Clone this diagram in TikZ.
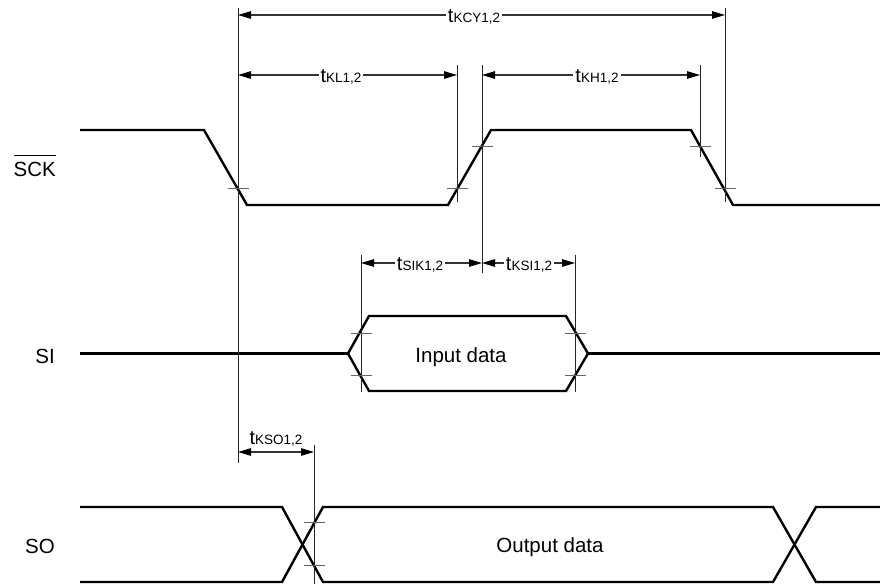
\documentclass[tikz,border=0pt]{standalone}
\usepackage{fontspec}
\setmainfont{Liberation Sans}
\usetikzlibrary{arrows.meta}
\newcommand\tlab[1]{t{\fontsize{13.5}{16}\selectfont #1}}
\begin{document}
\begin{tikzpicture}[x=1pt,y=-1pt,
  sig/.style={line width=2.4pt, line join=miter, black},
  refline/.style={line width=0.8pt, black!85},
  tickmark/.style={line width=0.9pt, black!60},
  dim/.style={line width=1.1pt, black!80, {Triangle[length=13pt,width=7.5pt,color=black]}-{Triangle[length=13pt,width=7.5pt,color=black]}},
  lab/.style={fill=white, inner xsep=2pt, inner ysep=0pt, text height=14pt, text depth=0pt, font=\fontsize{20}{24}\selectfont},
  sigtxt/.style={font=\fontsize{20.5}{24}\selectfont, inner sep=0pt}]
\useasboundingbox (0,0) rectangle (880,584);
% signal names
\node[sigtxt, anchor=base east] (nsck) at (56,176.5) {\vbox{\hrule height 1pt\kern6pt\hbox{SCK}}};
\node[sigtxt, anchor=base east] (nsi) at (55,363) {SI};
\node[sigtxt, anchor=base east] (nso) at (55,553) {SO};
% waveforms
\draw[sig] (80,130) -- (204,130) -- (247,205) -- (448,205) -- (491,130) -- (691,130) -- (733,205) -- (880,205);
\draw[sig] (80,353.5) -- (348,353.5) (588,353.5) -- (880,353.5);
\draw[sig] (348,353.5) -- (369,316) -- (566,316) -- (588,353.5) -- (566,391) -- (369,391) -- cycle;
\draw[sig] (80,507) -- (282,507) -- (323,582) -- (773,582) -- (816,507) -- (880,507);
\draw[sig] (80,582) -- (282,582) -- (323,507) -- (773,507) -- (816,582) -- (880,582);
\node[sigtxt, anchor=base] (din) at (461,362) {Input data};
\node[sigtxt, anchor=base] (dout) at (550,552.5) {Output data};
% reference lines
\draw[refline] (238,8) -- (238,463);
\draw[refline] (457,65) -- (457,202);
\draw[refline] (482,65) -- (482,273);
\draw[refline] (700,65) -- (700,157);
\draw[refline] (725,8) -- (725,202);
\draw[refline] (361,255) -- (361,392);
\draw[refline] (575,255) -- (575,392);
\draw[refline] (314,445) -- (314,584);
% ticks
\foreach \p in {(238,188),(457,188),(482,146),(700,146),(725,188),(361,333),(361,375),(575,333),(575,375),(314,522),(314,565)}
  \draw[tickmark] \p ++(-10.5,0) -- ++(21,0);
% dimension end points
\coordinate (kcyA) at (238,15);  \coordinate (kcyB) at (725,15);
\coordinate (klA) at (238,75);   \coordinate (klB) at (457,75);
\coordinate (khA) at (482,75);   \coordinate (khB) at (700,75);
\coordinate (sikA) at (361,263); \coordinate (sikB) at (482,263);
\coordinate (ksiA) at (482,263); \coordinate (ksiB) at (575,263);
\coordinate (ksoA) at (238,452); \coordinate (ksoB) at (314,452);
\draw[dim] (kcyA) -- (kcyB);
\draw[dim] (klA) -- (klB);
\draw[dim] (khA) -- (khB);
\draw[dim] (sikA) -- (sikB);
\draw[dim] (ksiA) -- (ksiB);
\draw[dim] (ksoA) -- (ksoB);
\node[lab] (lkcy) at (474,15) {\tlab{KCY1,2}};
\node[lab] (lkl) at (341,75) {\tlab{KL1,2}};
\node[lab] (lkh) at (597,75) {\tlab{KH1,2}};
\node[lab] (lsik) at (420,263) {\tlab{SIK1,2}};
\node[lab] (lksi) at (529,263) {\tlab{KSI1,2}};
\node[lab, fill=none] (lkso) at (276,437) {\tlab{KSO1,2}};
\end{tikzpicture}
\end{document}
